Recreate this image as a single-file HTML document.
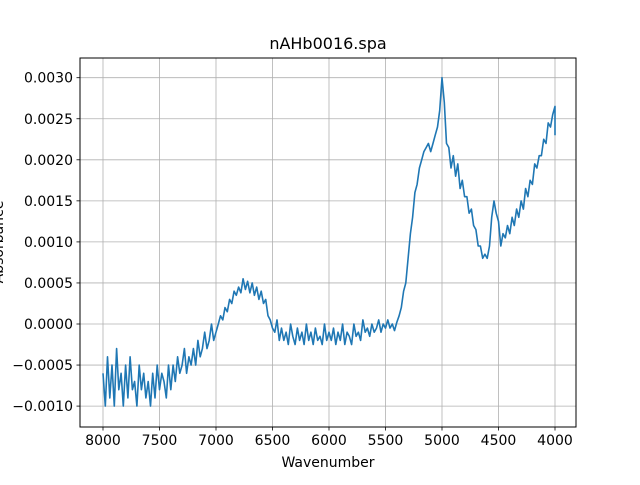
<!DOCTYPE html>
<html><head><meta charset="utf-8"><style>
body{margin:0;background:#fff;}
svg text{font-family:"DejaVu Sans","Liberation Sans",sans-serif;fill:#000;}
</style></head><body>
<svg id="chart" width="640" height="480" xmlns="http://www.w3.org/2000/svg">
<rect width="640" height="480" fill="#fff"/>
<g id="grid"></g>
<g id="ticks"></g>
<polyline id="line" fill="none" stroke="#1f77b4" stroke-width="1.6" stroke-linejoin="round"/>
<rect x="80" y="58" width="496" height="369" fill="none" stroke="#000" stroke-width="1"/>
<text x="328" y="49" font-size="16" text-anchor="middle">nAHb0016.spa</text>
<text x="328" y="467" font-size="14" text-anchor="middle">Wavenumber</text>
<text transform="translate(3,242) rotate(-90)" font-size="14" text-anchor="middle">Absorbance</text>
</svg>
<script>
const xTicks=[8000,7500,7000,6500,6000,5500,5000,4500,4000];
const yTicks=[-0.0010,-0.0005,0.0000,0.0005,0.0010,0.0015,0.0020,0.0025,0.0030];
const yTickLabels=["\u22120.0010","\u22120.0005","0.0000","0.0005","0.0010","0.0015","0.0020","0.0025","0.0030"];
const stepWn=20;
const segStarts=[8000,6980,5980,5380,4980];
const segA=[-6,-10,-4,-9,-5,-10,-3,-8,-6,-10,-5,-9,-4,-8,-7,-10,-5,-8,-6,-9,-7,-10,-6,-9,-5,-8,-6,-7,-9,-5,-8,-5,-7,-4,-6,-5,-3,-6,-4,-5,-3,-5,-2,-4,-3,-1,-3,-2,0,-2,-1];
const segB=[0,1,0.5,2,1.5,3,2.5,4,3.5,4.5,3.8,5.5,4.2,5.2,3.8,5,3.5,4.5,3,4,2.5,3,1,0.5,-0.5,-1,0.5,-2,-0.5,-2,-1,-2.5,0,-1.5,-2.5,-0.5,-2,-1,-2.5,0,-2,-1,-2.5,-0.5,-2,-1.5,-2.5,0,-2,-1];
const segC=[-2,-0.5,-2.5,-1,-2,0,-2.5,-1,-1.5,-2.5,0,-1.5,-1,-2,0.5,-1,-0.5,-1.5,0,-1,-0.5,0.5,-1,0,-0.5,0.5,-0.5,0,-0.8,0.2];
const segD=[1,2,4,5,8,11,13,16,17,19,20,21,21.5,22,21,22,23,24,26,30];
const segE=[27,22,21.5,19,20.5,18,19.5,16.5,17.5,15.5,15.5,13.5,14,12,11.5,9.5,9.5,8,8.5,8,9.5,13,15,13.5,12.5,9.5,11,10.5,12,11,13,12,14,13,15,14,16.5,15.5,17.5,17,19.5,19,20.5,20.5,22.5,22,24.5,24,25.5,26.5];
const endWn=4000, endVal=23;
const L=80,R=576,T=58,B=427;
function xs(w){return 103+(8000-w)*(555-103)/4000;}
function ys(v){return 324+(0-v)*(324-77.7)/0.003;}
const NS="http://www.w3.org/2000/svg";
const grid=document.getElementById('grid'), ticks=document.getElementById('ticks');
function mk(tag,attrs,parent){const e=document.createElementNS(NS,tag);for(const k in attrs)e.setAttribute(k,attrs[k]);parent.appendChild(e);return e;}
xTicks.forEach(w=>{const x=xs(w);
 const g=mk('line',{x1:x,x2:x,y1:T,y2:B,stroke:'#b0b0b0','stroke-width':0.8},grid);
 
 
 const t=mk('line',{x1:x,x2:x,y1:B,y2:B+3.5,stroke:'#000','stroke-width':0.8},ticks);
 
 
 const tx=mk('text',{x:x,y:B+18,'font-size':14,'text-anchor':'middle'},ticks);tx.textContent=w;
 
 
});
yTicks.forEach((v,i)=>{const y=ys(v);
 const g=mk('line',{x1:L,x2:R,y1:y,y2:y,stroke:'#b0b0b0','stroke-width':0.8},grid);
 
 
 const t=mk('line',{x1:L-3.5,x2:L,y1:y,y2:y,stroke:'#000','stroke-width':0.8},ticks);
 
 
 const tx=mk('text',{x:L-7,y:y+5,'font-size':14,'text-anchor':'end'},ticks);tx.textContent=yTickLabels[i];
 
 
});
const segs=[segA,segB,segC,segD,segE];
const pts=[];
segs.forEach((s,k)=>{s.forEach((v,i)=>{const w=segStarts[k]-stepWn*i;pts.push(xs(w).toFixed(1)+','+ys(v*1e-4).toFixed(1));});});
pts.push(xs(endWn).toFixed(1)+','+ys(endVal*1e-4).toFixed(1));
document.getElementById('line').setAttribute('points',pts.join(' '));
</script>
</body></html>
